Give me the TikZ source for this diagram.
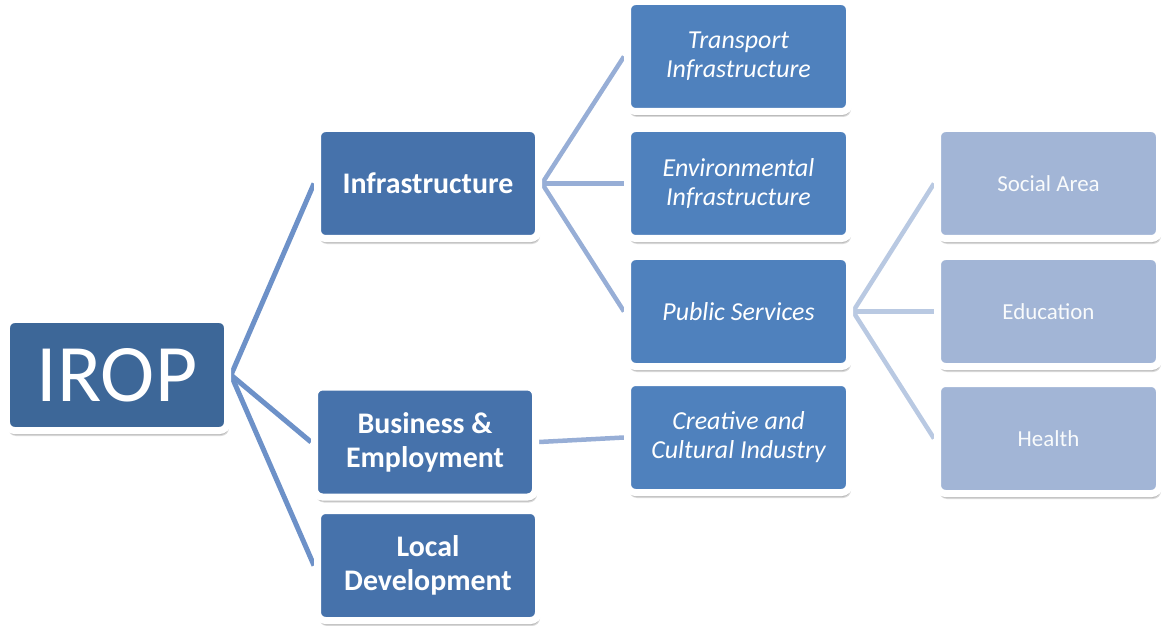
\documentclass[tikz,border=0pt]{standalone}
\usepackage{fontspec}
\setmainfont{Carlito}
\usetikzlibrary{shadows,backgrounds}
\definecolor{cRoot}{HTML}{3D6798}
\definecolor{cTwo}{HTML}{4672AB}
\definecolor{cThree}{HTML}{4F81BD}
\definecolor{cFour}{HTML}{A2B5D6}
\definecolor{lOne}{HTML}{6D91C8}
\definecolor{lTwo}{HTML}{97AED6}
\definecolor{lThree}{HTML}{B9C9E2}
\begin{document}
\begin{tikzpicture}[x=1bp,y=-1bp,
  box/.style={rectangle, rounded corners=8bp, draw=white, line width=7bp,
    inner sep=0pt, text=white, align=center,
    minimum width=221bp, minimum height=110bp,
    drop shadow={shadow xshift=1.5bp, shadow yshift=-5.5bp, opacity=0.18, fill=black!80},
    drop shadow={shadow xshift=1bp, shadow yshift=-4.5bp, opacity=0.18, fill=black!80}},
  rootbox/.style={box, fill=cRoot, minimum height=111bp,
    font=\fontsize{82}{90}\selectfont},
  lvtwo/.style={box, fill=cTwo, font=\bfseries\fontsize{30}{34}\selectfont},
  lvthree/.style={box, fill=cThree, minimum width=222bp, font=\itshape\fontsize{26}{29}\selectfont},
  lvfour/.style={box, fill=cFour, minimum width=222bp, text=white!94!cFour, font=\fontsize{23}{27}\selectfont},
  linkone/.style={draw=lOne, line width=5bp},
  linktwo/.style={draw=lTwo, line width=4.5bp},
  linkthree/.style={draw=lThree, line width=4.5bp}
]
\useasboundingbox (0,0) rectangle (1163,626);

\node[rootbox] (irop) at (117,375) {IROP};

\node[lvtwo] (infra) at (428,183.5) {Infrastructure};
\node[lvtwo] (bus) at (425,442) {Business \&\\Employment};
\node[lvtwo] (local) at (428,565.5) {Local\\Development};

\node[lvthree] (trans) at (738.5,56.5) {Transport\\Infrastructure};
\node[lvthree] (env) at (738.5,183.5) {Environmental\\Infrastructure};
\node[lvthree] (pub) at (738.5,311.5) {Public Services};
\node[lvthree] (cre) at (738.5,437.5) {Creative and\\Cultural Industry};

\node[lvfour] (soc) at (1048.5,183.5) {Social Area};
\node[lvfour] (edu) at (1048.5,311.5) {Education};
\node[lvfour] (hea) at (1048.5,438.5) {Health};

\begin{scope}[on background layer]
  \draw[linkone] (infra.west) -- (irop.east) -- (local.west);
  \draw[linkone] (irop.east) -- (bus.west);
  \draw[linktwo] (trans.west) -- (infra.east) -- (pub.west);
  \draw[linktwo] (infra.east) -- (env.west);
  \draw[linktwo] (bus.east) -- (cre.west);
  \draw[linkthree] (soc.west) -- (pub.east) -- (hea.west);
  \draw[linkthree] (pub.east) -- (edu.west);
\end{scope}
\end{tikzpicture}
\end{document}
